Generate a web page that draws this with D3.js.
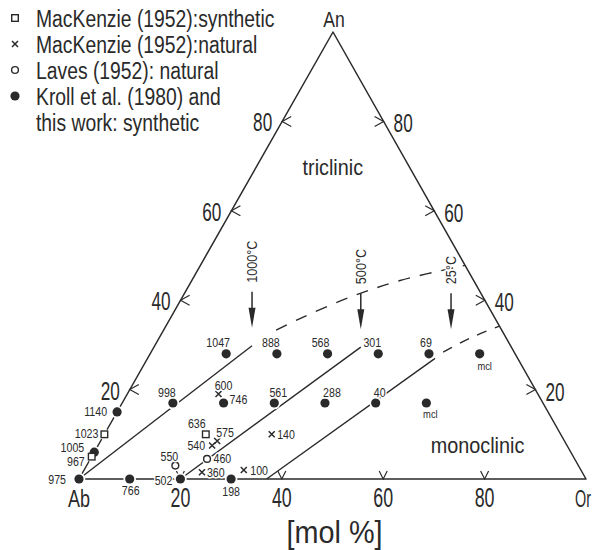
<!DOCTYPE html>
<html>
<head>
<meta charset="utf-8">
<script src="https://cdn.jsdelivr.net/npm/d3@7"></script>
<style>
  body { margin: 0; background: #fff; }
  svg { display: block; font-family: "Liberation Sans", Arial, sans-serif; }
</style>
</head>
<body>
<svg id="chart" width="604" height="550"></svg>
<script>
// compositions in mol % : An, Or (Ab is the rest)
const tickValues = [20, 40, 60, 80];
const baseLabels = ["Ab", "20", "40", "60", "80", "Or"];
const baseOr = [0, 20, 40, 60, 80, 100];

const krollLabels = ["1047", "888", "568", "301", "69", "mcl",
  "998", "746", "561", "288", "40", "mcl",
  "1140", "1005", "975", "766", "502", "198"];
const krollAn = [28, 28, 28, 28, 28, 28, 17, 17, 17, 17, 17, 17, 15, 6, 0, 0, 0, 0];
const krollOr = [15, 25, 35, 45, 55, 65, 10, 20, 30, 40, 50, 60, 0, 0, 0, 10, 20, 30];

const mackSynLabels = ["1023", "967", "636"];
const mackSynAn = [10, 5, 10];
const mackSynOr = [0, 0, 20];

const mackNatLabels = ["600", "575", "540", "140", "360", "100"];
const mackNatAn = [19, 8.5, 7.5, 10, 1.5, 2];
const mackNatOr = [18, 23, 22.5, 33, 23.5, 31.5];

const lavesLabels = ["460", "550"];
const lavesAn = [4.5, 3];
const lavesOr = [23, 17.5];

const isoNames = ["1000°C", "500°C", "25°C"];
const isoTipAn = [29.8, 29.5, 29.5];
const isoTipOr = [19.2, 40.8, 58.6];

const iso1000An = [0, 29.8];
const iso1000Or = [0, 19.2];
const iso1000DashAn = [33.3, 35.9, 40.7, 44.4, 47.8];
const iso1000DashOr = [22.2, 25.6, 33.1, 41.1, 52.2];
const iso500An = [0, 29.5];
const iso500Or = [20, 40.8];
const iso25An = [0, 27];
const iso25Or = [37, 56.7];
const iso25DashAn = [28.4, 31.5, 34.2];
const iso25DashOr = [57.6, 61.3, 65.8];

const legendLabels = ["MacKenzie (1952):synthetic", "MacKenzie (1952):natural",
  "Laves (1952): natural", "Kroll et al. (1980) and", "this work: synthetic"];
const legendKinds = ["square", "cross", "circle", "dot", ""];

// label nudges [anchor, dx, dy] for each point, same order as above
const krollPlace = [["middle", -8, -7], ["middle", -6, -7], ["middle", -7, -7], ["middle", -6, -7],
  ["middle", -3, -7], ["middle", 5, 16], ["middle", -6, -6], ["start", 6, 1],
  ["middle", 4, -6], ["middle", 7, -6], ["middle", 4, -6], ["middle", 4, 15],
  ["end", -10, 4.5], ["end", -10, 0], ["end", -13, 4.5], ["middle", 1, 16],
  ["end", -8, 5.5], ["middle", 0, 16.5]];
const mackSynPlace = [["end", -6, 4], ["end", -7, 9], ["middle", -9, -6]];
const mackNatPlace = [["middle", 5, -4.5], ["start", -1, -4], ["end", -7, 5],
  ["start", 5.5, 5], ["start", 5, 4.6], ["start", 6.5, 5]];
const lavesPlace = [["start", 6.5, 4], ["middle", -6, -5]];

const INK = "#2a2a2a";
const svg = d3.select("#chart");

const yAn = d3.scaleLinear().domain([0, 100]).range([479, 32]);
const xOr = d3.scaleLinear().domain([0, 100]).range([79, 586]);
const xLean = d3.scaleLinear().domain([0, 100]).range([0, 254]);
const pt = (an, or) => [xOr(or) + xLean(an), yAn(an)];

function squeeze(sel, k) {
  sel.each(function() {
    const len = this.getComputedTextLength();
    d3.select(this)
      .attr("textLength", len * k)
      .attr("lengthAdjust", "spacingAndGlyphs");
  });
}

function halo(sel) {
  sel.attr("stroke", "#fff")
    .attr("stroke-width", 3)
    .attr("stroke-linejoin", "round")
    .attr("paint-order", "stroke");
}

// ---- triangle ----
svg.append("path")
  .attr("d", d3.line()([pt(0, 0), pt(0, 100), pt(100, 0)]) + "Z")
  .attr("fill", "none")
  .attr("stroke", INK)
  .attr("stroke-width", 1.5)
  .attr("stroke-linejoin", "round");

// ---- isotherm lines ----
const curve = d3.line().curve(d3.curveCatmullRom);
const toPts = (an, or) => an.map((a, i) => pt(a, or[i]));
const lines = [
  { p: toPts(iso1000An, iso1000Or), dash: null },
  { p: toPts(iso1000DashAn, iso1000DashOr), dash: "12,10" },
  { p: toPts(iso500An, iso500Or), dash: null },
  { p: toPts(iso25An, iso25Or), dash: null },
  { p: toPts(iso25DashAn, iso25DashOr), dash: "10,9" }
];
svg.append("g")
  .selectAll("path")
  .data(lines)
  .enter()
  .append("path")
  .attr("d", d => curve(d.p))
  .attr("fill", "none")
  .attr("stroke", INK)
  .attr("stroke-width", 1.4)
  .attr("stroke-dasharray", d => d.dash);

// ---- edge ticks ----
const ticks = svg.append("g")
  .attr("fill", "none")
  .attr("stroke", INK)
  .attr("stroke-width", 1.2);
tickValues.forEach(v => {
  const [lx, ly] = pt(v, 0);
  ticks.append("path").attr("d", `M${lx + 9},${ly - 5}L${lx},${ly}L${lx + 9},${ly + 5}`);
  const [rx, ry] = pt(v, 100 - v);
  ticks.append("path").attr("d", `M${rx - 9},${ry - 5}L${rx},${ry}L${rx - 9},${ry + 5}`);
  const [bx, by] = pt(0, v);
  ticks.append("path").attr("d", `M${bx - 4},${by - 8}L${bx},${by}L${bx + 4},${by - 8}`);
});

const axisText = svg.append("g").attr("fill", INK).attr("font-size", 26);
axisText.selectAll(".lt")
  .data(tickValues)
  .enter()
  .append("text")
  .attr("x", d => pt(d, 0)[0] - 10)
  .attr("y", d => pt(d, 0)[1] + 10)
  .attr("text-anchor", "end")
  .text(d => d);
axisText.selectAll(".rt")
  .data(tickValues)
  .enter()
  .append("text")
  .attr("x", d => pt(d, 100 - d)[0] + 10)
  .attr("y", d => pt(d, 100 - d)[1] + 11)
  .attr("text-anchor", "start")
  .text(d => d);
axisText.selectAll(".bt")
  .data(baseLabels)
  .enter()
  .append("text")
  .attr("x", (d, i) => pt(0, baseOr[i])[0] + (i === 5 ? -3 : 0))
  .attr("y", (d, i) => pt(0, baseOr[i])[1] + 28)
  .attr("text-anchor", "middle")
  .attr("font-size", (d, i) => (i === 0 ? 23 : i === 5 ? 24 : 27))
  .text(d => d);
squeeze(axisText.selectAll("text"), 0.66);
axisText.selectAll("text").filter(d => d === "Ab").attr("textLength", 22);
axisText.selectAll("text").filter(d => d === "Or").attr("textLength", 16);

const apex = pt(100, 0);
const anText = axisText.append("text")
  .attr("x", apex[0] + 1)
  .attr("y", apex[1] - 5)
  .attr("text-anchor", "middle")
  .attr("font-size", 22)
  .text("An");
squeeze(anText, 0.8);

const molText = svg.append("text")
  .attr("x", (pt(0, 0)[0] + pt(0, 100)[0]) / 2 + 2)
  .attr("y", 543)
  .attr("text-anchor", "middle")
  .attr("font-size", 32)
  .attr("fill", INK)
  .text("[mol %]");
squeeze(molText, 0.9);

// ---- field names ----
const fields = [["triclinic", 68, 16], ["monoclinic", 5.8, 75.7]];
const fieldText = svg.append("g")
  .selectAll("text")
  .data(fields)
  .enter()
  .append("text")
  .attr("x", d => pt(d[1], d[2])[0])
  .attr("y", d => pt(d[1], d[2])[1])
  .attr("text-anchor", "middle")
  .attr("font-size", 22)
  .attr("fill", INK)
  .text(d => d[0]);
squeeze(fieldText, 0.9);

// ---- temperature arrows ----
const arrows = svg.append("g")
  .selectAll("g")
  .data(isoNames)
  .enter()
  .append("g")
  .attr("transform", (d, i) => {
    const p = pt(isoTipAn[i], isoTipOr[i]);
    return "translate(" + p[0] + "," + (p[1] - 18) + ")";
  });
arrows.append("line")
  .attr("x1", 0).attr("x2", 0)
  .attr("y1", -36).attr("y2", -10)
  .attr("stroke", INK)
  .attr("stroke-width", 1.5);
arrows.append("path")
  .attr("d", "M-3.5,-20L3.5,-20L0,0Z")
  .attr("fill", INK);
const arrowText = arrows.append("text")
  .attr("transform", "translate(5,-45) rotate(-90)")
  .attr("font-size", 14)
  .attr("fill", INK)
  .text(d => d)
  .call(halo);
squeeze(arrowText, 0.9);

// ---- symbols ----
function drawSymbol(g, kind, backing) {
  if (backing) {
    g.append("circle").attr("r", kind === "dot" ? 6.3 : 5.5).attr("fill", "#fff");
    return;
  }
  if (kind === "dot") {
    g.append("circle").attr("r", 4.6).attr("fill", INK);
  } else if (kind === "square") {
    g.append("rect")
      .attr("x", -3.3).attr("y", -3.3)
      .attr("width", 6.6).attr("height", 6.6)
      .attr("fill", "#fff").attr("stroke", INK).attr("stroke-width", 1.4);
  } else if (kind === "circle") {
    g.append("circle").attr("r", 3.4)
      .attr("fill", "#fff").attr("stroke", INK).attr("stroke-width", 1.4);
  } else if (kind === "cross") {
    g.append("path").attr("d", "M-3,-3L3,3M-3,3L3,-3")
      .attr("stroke", INK).attr("stroke-width", 1.5);
  }
}

const series = [
  { kind: "dot", an: krollAn, or: krollOr, labels: krollLabels, place: krollPlace },
  { kind: "square", an: mackSynAn, or: mackSynOr, labels: mackSynLabels, place: mackSynPlace },
  { kind: "cross", an: mackNatAn, or: mackNatOr, labels: mackNatLabels, place: mackNatPlace },
  { kind: "circle", an: lavesAn, or: lavesOr, labels: lavesLabels, place: lavesPlace }
];
const rows = [];
series.forEach(s => s.an.forEach((a, i) => {
  const p = pt(a, s.or[i]);
  rows.push({ kind: s.kind, x: p[0], y: p[1], label: s.labels[i], place: s.place[i] });
}));

const backs = svg.append("g");
const marks = svg.append("g");
rows.forEach(r => {
  drawSymbol(backs.append("g").attr("transform", "translate(" + r.x + "," + r.y + ")"), r.kind, true);
});
rows.forEach(r => {
  drawSymbol(marks.append("g").attr("transform", "translate(" + r.x + "," + r.y + ")"), r.kind, false);
});

const pointText = svg.append("g")
  .selectAll("text")
  .data(rows)
  .enter()
  .append("text")
  .attr("x", d => d.x + d.place[1])
  .attr("y", d => d.y + d.place[2])
  .attr("text-anchor", d => d.place[0])
  .attr("font-size", d => (d.label === "mcl" ? 11 : 12.5))
  .attr("fill", INK)
  .text(d => d.label)
  .call(halo);
squeeze(pointText, 0.85);

// ---- legend ----
const LEGEND_SYM_X = 15;
const LEGEND_TEXT_X = 36;
const LEGEND_Y0 = 27;
const LEGEND_DY = 26;
const legend = svg.append("g");
const legendRow = legend.selectAll("g")
  .data(legendLabels)
  .enter()
  .append("g")
  .attr("transform", (d, i) => "translate(0," + (LEGEND_Y0 + i * LEGEND_DY) + ")");
legendRow.each(function(d, i) {
  if (legendKinds[i]) {
    drawSymbol(d3.select(this).append("g")
      .attr("transform", "translate(" + LEGEND_SYM_X + ",-9)"), legendKinds[i], false);
  }
});
const legendText = legendRow.append("text")
  .attr("x", LEGEND_TEXT_X)
  .attr("font-size", 23)
  .attr("fill", INK)
  .text(d => d);
squeeze(legendText, 0.84);
</script>
</body>
</html>
